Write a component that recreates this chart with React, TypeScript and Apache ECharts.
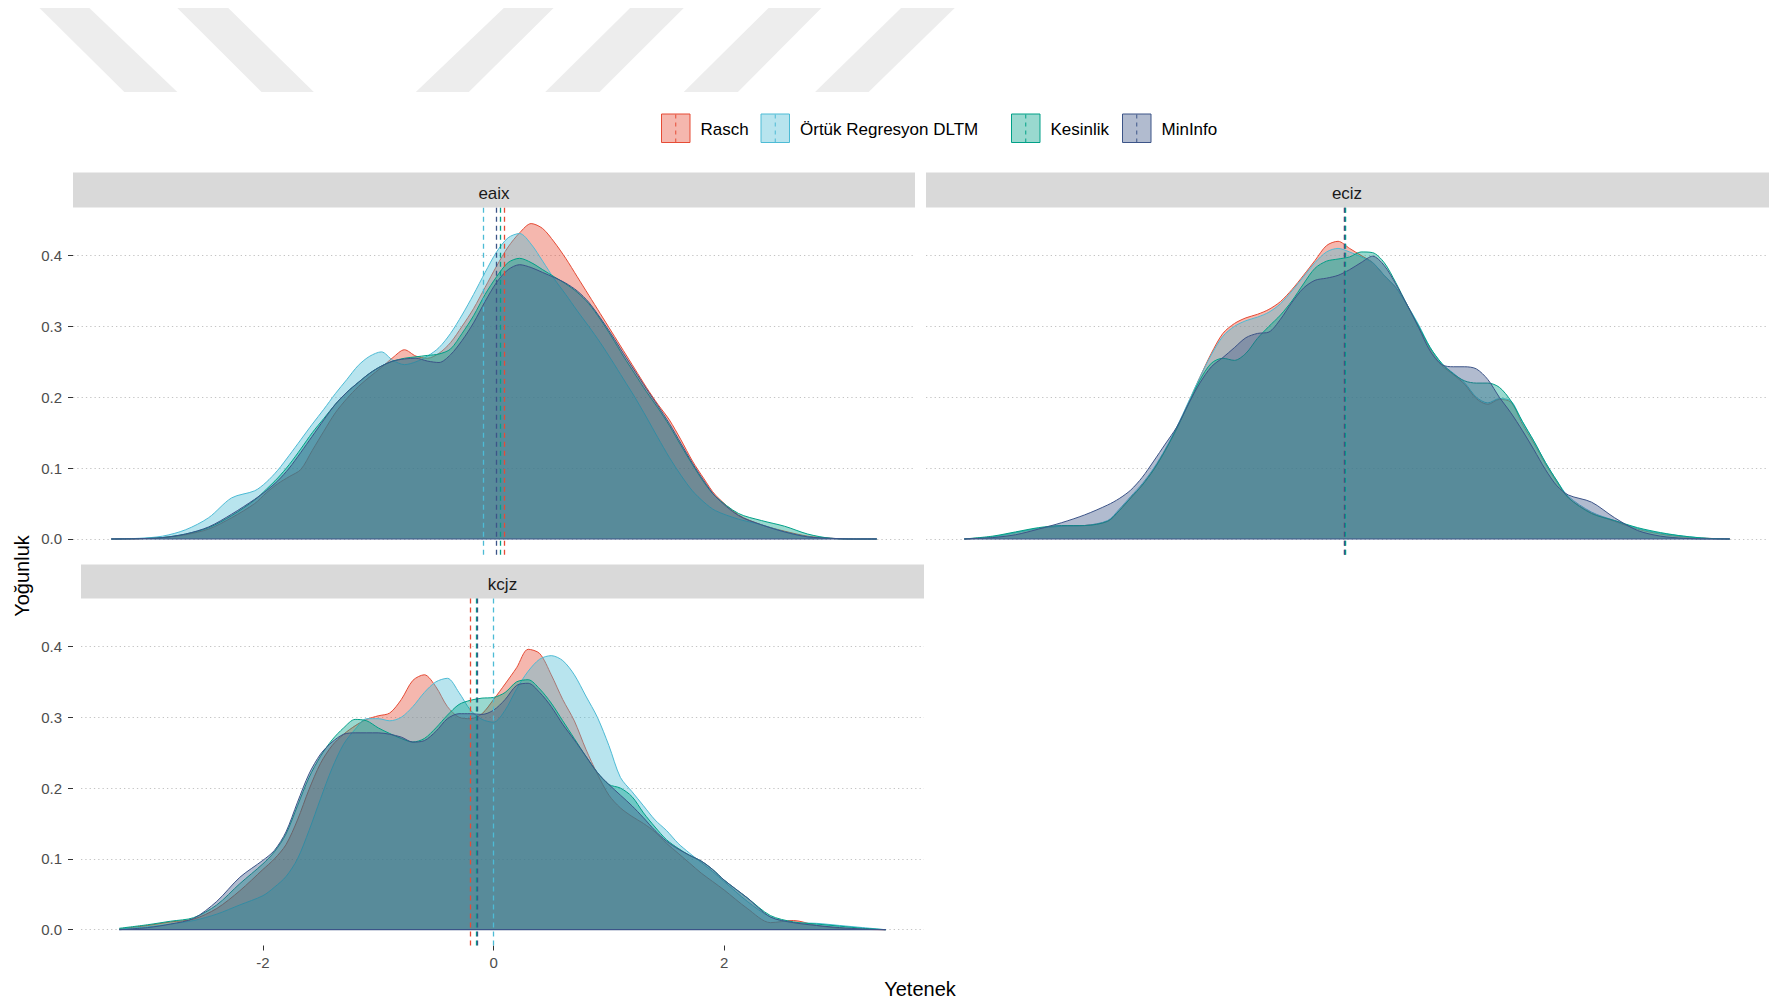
import React, { useEffect, useRef } from "react";
import * as echarts from "echarts";

// ---------- data ----------
const METHODS = ["Rasch", "Örtük Regresyon DLTM", "Kesinlik", "MinInfo"];
const PANELS = ["eaix", "eciz", "kcjz"];
const Y_TICKS = [0, 0.1, 0.2, 0.3, 0.4];
const X_TICKS = [-2, 0, 2];

const X_GRID = [
  -3.245, -3.0, -2.8, -2.6, -2.4, -2.2, -2.0, -1.9, -1.8, -1.7, -1.6, -1.5, -1.4, -1.3, -1.2, -1.1,
  -1.0, -0.9, -0.8, -0.7, -0.6, -0.5, -0.4, -0.3, -0.2, -0.1, 0.0, 0.1, 0.2, 0.3, 0.4, 0.5, 0.6,
  0.7, 0.8, 0.9, 1.0, 1.1, 1.2, 1.3, 1.4, 1.5, 1.6, 1.7, 1.8, 1.9, 2.0, 2.2, 2.4, 2.6, 2.8, 3.0,
  3.2, 3.4,
];

// eaix
const EAIX_RASCH = [
  0, 0.0005, 0.002, 0.006, 0.014, 0.03, 0.05, 0.065, 0.078, 0.088, 0.098, 0.125, 0.152, 0.178,
  0.198, 0.215, 0.229, 0.242, 0.256, 0.267, 0.258, 0.255, 0.262, 0.277, 0.3, 0.325, 0.355, 0.385,
  0.412, 0.432, 0.445, 0.438, 0.419, 0.396, 0.37, 0.344, 0.318, 0.292, 0.266, 0.24, 0.214, 0.19,
  0.168, 0.14, 0.11, 0.085, 0.062, 0.034, 0.02, 0.011, 0.004, 0.001, 0, 0,
];
const EAIX_ORTUK = [
  0, 0.001, 0.004, 0.013, 0.03, 0.058, 0.068, 0.08, 0.097, 0.118, 0.14, 0.162, 0.183, 0.205, 0.225,
  0.245, 0.258, 0.264, 0.252, 0.246, 0.25, 0.258, 0.27, 0.29, 0.316, 0.345, 0.376, 0.405, 0.425,
  0.431, 0.416, 0.392, 0.367, 0.345, 0.322, 0.3, 0.277, 0.252, 0.226, 0.2, 0.172, 0.143, 0.115,
  0.09, 0.068, 0.052, 0.04, 0.028, 0.02, 0.01, 0.003, 0.001, 0, 0,
];
const EAIX_KESIN = [
  0, 0.0005, 0.002, 0.007, 0.016, 0.033, 0.055, 0.07, 0.086, 0.105, 0.127, 0.15, 0.17, 0.19, 0.207,
  0.221, 0.234, 0.244, 0.251, 0.255, 0.257, 0.259, 0.261, 0.268, 0.29, 0.315, 0.345, 0.37, 0.39,
  0.396, 0.39, 0.38, 0.37, 0.36, 0.348, 0.332, 0.31, 0.285, 0.258, 0.233, 0.208, 0.185, 0.16, 0.132,
  0.105, 0.08, 0.06, 0.036, 0.026, 0.018, 0.007, 0.001, 0, 0,
];
const EAIX_MININFO = [
  0, 0.0005, 0.002, 0.007, 0.017, 0.035, 0.056, 0.068, 0.082, 0.1, 0.122, 0.145, 0.168, 0.19, 0.207,
  0.221, 0.234, 0.244, 0.251, 0.254, 0.255, 0.251, 0.249, 0.26, 0.28, 0.305, 0.335, 0.362, 0.38,
  0.387, 0.383, 0.376, 0.369, 0.361, 0.35, 0.334, 0.312, 0.288, 0.262, 0.237, 0.212, 0.188, 0.163,
  0.135, 0.107, 0.082, 0.06, 0.033, 0.02, 0.01, 0.003, 0.001, 0, 0,
];

// eciz
const ECIZ_RASCH = [
  0, 0.003, 0.009, 0.015, 0.018, 0.019, 0.025, 0.04, 0.058, 0.076, 0.098, 0.125, 0.156, 0.192,
  0.228, 0.262, 0.29, 0.304, 0.312, 0.317, 0.324, 0.335, 0.352, 0.372, 0.393, 0.414, 0.42, 0.41,
  0.4, 0.39, 0.372, 0.355, 0.33, 0.3, 0.268, 0.245, 0.232, 0.218, 0.198, 0.19, 0.197, 0.193, 0.162,
  0.135, 0.106, 0.08, 0.058, 0.037, 0.025, 0.014, 0.007, 0.003, 0.001, 0,
];
const ECIZ_ORTUK = [
  0, 0.003, 0.009, 0.015, 0.018, 0.019, 0.026, 0.042, 0.06, 0.078, 0.1, 0.127, 0.158, 0.193, 0.228,
  0.26, 0.286, 0.3, 0.308, 0.313, 0.32, 0.332, 0.35, 0.37, 0.39, 0.405, 0.41, 0.405, 0.398, 0.39,
  0.372, 0.355, 0.33, 0.302, 0.27, 0.247, 0.234, 0.22, 0.2, 0.192, 0.198, 0.195, 0.165, 0.138,
  0.108, 0.082, 0.06, 0.038, 0.026, 0.015, 0.008, 0.004, 0.001, 0,
];
const ECIZ_KESIN = [
  0, 0.004, 0.01, 0.016, 0.019, 0.019, 0.025, 0.04, 0.058, 0.076, 0.098, 0.125, 0.156, 0.19, 0.224,
  0.248, 0.255, 0.252, 0.262, 0.283, 0.3, 0.316, 0.336, 0.36, 0.382, 0.392, 0.395, 0.398, 0.405,
  0.404, 0.39, 0.362, 0.33, 0.3, 0.27, 0.248, 0.233, 0.223, 0.22, 0.22, 0.214, 0.195, 0.166, 0.138,
  0.108, 0.082, 0.058, 0.036, 0.026, 0.016, 0.009, 0.004, 0.001, 0,
];
const ECIZ_MININFO = [
  0, 0.002, 0.006, 0.014, 0.023, 0.034, 0.048, 0.057, 0.069, 0.087, 0.11, 0.134, 0.158, 0.19, 0.22,
  0.243, 0.256, 0.27, 0.284, 0.29, 0.292, 0.31, 0.334, 0.354, 0.365, 0.368, 0.372, 0.38, 0.39,
  0.399, 0.386, 0.36, 0.33, 0.298, 0.265, 0.246, 0.243, 0.243, 0.24, 0.225, 0.2, 0.178, 0.153,
  0.126, 0.098, 0.075, 0.062, 0.052, 0.03, 0.012, 0.004, 0.001, 0, 0,
];

// kcjz
const KCJZ_RASCH = [
  0.001, 0.006, 0.011, 0.015, 0.03, 0.055, 0.085, 0.1, 0.12, 0.155, 0.198, 0.235, 0.26, 0.276,
  0.288, 0.297, 0.302, 0.306, 0.325, 0.352, 0.36, 0.343, 0.315, 0.3, 0.298, 0.305, 0.325, 0.347,
  0.37, 0.396, 0.39, 0.36, 0.325, 0.295, 0.255, 0.22, 0.19, 0.172, 0.16, 0.15, 0.138, 0.122, 0.108,
  0.094, 0.08, 0.068, 0.056, 0.03, 0.01, 0.013, 0.006, 0.002, 0.0005, 0,
];
const KCJZ_ORTUK = [
  0.001, 0.004, 0.008, 0.013, 0.022, 0.035, 0.048, 0.06, 0.075, 0.1, 0.14, 0.185, 0.228, 0.262,
  0.283, 0.298, 0.298, 0.295, 0.3, 0.315, 0.335, 0.35, 0.355, 0.335, 0.31, 0.297, 0.293, 0.31, 0.34,
  0.365, 0.382, 0.387, 0.38, 0.36, 0.33, 0.3, 0.26, 0.215, 0.195, 0.175, 0.155, 0.14, 0.122, 0.108,
  0.095, 0.082, 0.068, 0.04, 0.018, 0.01, 0.009, 0.006, 0.003, 0,
];
const KCJZ_KESIN = [
  0.002, 0.007, 0.012, 0.017, 0.035, 0.065, 0.093, 0.11, 0.135, 0.175, 0.215, 0.245, 0.268, 0.285,
  0.297, 0.295, 0.285, 0.277, 0.27, 0.265, 0.27, 0.285, 0.303, 0.318, 0.324, 0.327, 0.328, 0.335,
  0.35, 0.353, 0.34, 0.32, 0.295, 0.27, 0.245, 0.222, 0.205, 0.2, 0.188, 0.165, 0.145, 0.127, 0.115,
  0.105, 0.097, 0.085, 0.07, 0.045, 0.02, 0.011, 0.008, 0.005, 0.002, 0,
];
const KCJZ_MININFO = [
  0, 0.003, 0.008, 0.016, 0.04, 0.074, 0.098, 0.112, 0.138, 0.18, 0.22, 0.248, 0.265, 0.276, 0.278,
  0.278, 0.278, 0.276, 0.272, 0.265, 0.267, 0.28, 0.298, 0.305, 0.305, 0.304, 0.31, 0.325, 0.345,
  0.348, 0.335, 0.315, 0.29, 0.268, 0.245, 0.222, 0.205, 0.19, 0.175, 0.158, 0.14, 0.125, 0.114,
  0.105, 0.097, 0.085, 0.07, 0.045, 0.018, 0.01, 0.006, 0.003, 0.001, 0,
];

// means (dashed vertical lines), order: Rasch, Örtük, Kesinlik, MinInfo
const MEANS_EAIX = [0.17, -0.02, 0.125, 0.1];
const MEANS_ECIZ = [0.05, 0.064, 0.058, 0.052];
const MEANS_KCJZ = [-0.196, -0.003, -0.15, -0.143];

// ---------- styling / layout ----------
const COLORS = ["#E64B35", "#4DBBD5", "#00A087", "#3C5488"];
const X_MIN = -3.577;
const X_MAX = 3.732;
const Y_MIN = -0.0223;
const Y_MAX = 0.4677;
const FONT = "'Liberation Sans', Arial, sans-serif";

const GRIDS = [
  { left: 73, top: 207.5, width: 842, height: 347.3 },
  { left: 926, top: 207.5, width: 842, height: 347.3 },
  { left: 81, top: 598.5, width: 843, height: 347 },
];
const STRIPS = [
  { x: 73, y: 172.6, w: 842, h: 34.9 },
  { x: 926, y: 172.6, w: 843, h: 34.9 },
  { x: 81, y: 564.5, w: 843, h: 34 },
];
const LEGEND_X = [661, 760.5, 1011, 1122];
const WATERMARK = [
  [[39.5, 8], [89.3, 8], [177.3, 92], [124.4, 92]],
  [[177.3, 8], [228.3, 8], [313.8, 92], [261.5, 92]],
  [[503.8, 8], [553.6, 8], [468.8, 92], [415.8, 92]],
  [[630.1, 8], [683.7, 8], [599.5, 92], [545.3, 92]],
  [[768.5, 8], [821.4, 8], [737.9, 92], [683.7, 92]],
  [[901.1, 8], [954.7, 8], [868.6, 92], [815.1, 92]],
];

const DENS = [
  [EAIX_RASCH, EAIX_ORTUK, EAIX_KESIN, EAIX_MININFO],
  [ECIZ_RASCH, ECIZ_ORTUK, ECIZ_KESIN, ECIZ_MININFO],
  [KCJZ_RASCH, KCJZ_ORTUK, KCJZ_KESIN, KCJZ_MININFO],
];
const MEANS = [MEANS_EAIX, MEANS_ECIZ, MEANS_KCJZ];

function rgba(hex: string, a: number) {
  const n = parseInt(hex.slice(1), 16);
  return `rgba(${(n >> 16) & 255},${(n >> 8) & 255},${n & 255},${a})`;
}

function buildOption() {
  const grid = GRIDS.map((g) => ({ ...g, containLabel: false }));

  const xAxis = PANELS.map((_, p) => ({
    type: "value",
    gridIndex: p,
    min: X_MIN,
    max: X_MAX,
    show: p === 2,
    axisLine: { show: false, onZero: false },
    axisTick: {
      show: p === 2,
      length: 5,
      customValues: X_TICKS,
      lineStyle: { color: "#333333", width: 1 },
    },
    axisLabel: {
      show: p === 2,
      customValues: X_TICKS,
      margin: 9,
      color: "#4D4D4D",
      fontSize: 15,
      fontFamily: FONT,
      formatter: (v: number) => String(v),
    },
    splitLine: { show: false },
  }));

  const yAxis = PANELS.map((_, p) => ({
    type: "value",
    gridIndex: p,
    min: Y_MIN,
    max: Y_MAX,
    offset: p === 2 ? 8 : 0,
    axisLine: { show: false, onZero: false },
    axisTick: {
      show: p !== 1,
      length: 5,
      customValues: Y_TICKS,
      lineStyle: { color: "#333333", width: 1 },
    },
    axisLabel: {
      show: p !== 1,
      customValues: Y_TICKS,
      margin: 11,
      color: "#4D4D4D",
      fontSize: 15,
      fontFamily: FONT,
      formatter: (v: number) => v.toFixed(1),
    },
    splitLine: {
      show: true,
      lineStyle: { color: "#C4C4C4", width: 1, type: [1.3, 3] },
    },
  }));

  const series: any[] = [];
  PANELS.forEach((_, p) => {
    METHODS.forEach((name, m) => {
      series.push({
        type: "line",
        name,
        xAxisIndex: p,
        yAxisIndex: p,
        data: X_GRID.map((x, i) => [x, DENS[p][m][i]]),
        showSymbol: false,
        symbol: "none",
        smooth: 0.3,
        z: 2 + m * 0.01,
        lineStyle: { color: COLORS[m], width: 1 },
        itemStyle: { color: COLORS[m] },
        areaStyle: { color: COLORS[m], opacity: 0.4 },
        emphasis: { disabled: true },
        markLine: {
          silent: true,
          symbol: "none",
          label: { show: false },
          emphasis: { disabled: true },
          lineStyle: { color: COLORS[m], type: [5, 4], width: 1.3 },
          data: [{ xAxis: MEANS[p][m] }],
        },
      });
    });
    series.push({
      type: "line",
      xAxisIndex: p,
      yAxisIndex: p,
      data: [
        [X_GRID[0], 0],
        [X_GRID[X_GRID.length - 1], 0],
      ],
      showSymbol: false,
      symbol: "none",
      z: 3,
      lineStyle: { color: COLORS[3], width: 1.2 },
      emphasis: { disabled: true },
    });
  });

  const graphic: any[] = [];
  WATERMARK.forEach((pts) => {
    graphic.push({
      type: "polygon",
      silent: true,
      z: -10,
      shape: { points: pts },
      style: { fill: "#EDEDED" },
    });
  });
  PANELS.forEach((label, p) => {
    const s = STRIPS[p];
    graphic.push({
      type: "rect",
      silent: true,
      shape: { x: s.x, y: s.y, width: s.w, height: s.h },
      style: { fill: "#D9D9D9" },
    });
    graphic.push({
      type: "text",
      silent: true,
      x: GRIDS[p].left + GRIDS[p].width / 2,
      y: s.y + s.h / 2 + 3,
      style: {
        text: label,
        fill: "#1A1A1A",
        fontSize: 17,
        fontFamily: FONT,
        align: "center",
        verticalAlign: "middle",
      },
    });
  });
  METHODS.forEach((name, m) => {
    const x = LEGEND_X[m];
    graphic.push({
      type: "rect",
      silent: true,
      shape: { x: x + 0.5, y: 114, width: 28.5, height: 28.5 },
      style: { fill: rgba(COLORS[m], 0.4), stroke: COLORS[m], lineWidth: 1 },
    });
    graphic.push({
      type: "line",
      silent: true,
      shape: { x1: x + 14.75, y1: 114.5, x2: x + 14.75, y2: 142 },
      style: { stroke: COLORS[m], lineWidth: 1, lineDash: [4, 4] },
    });
    graphic.push({
      type: "text",
      silent: true,
      x: x + 39.5,
      y: 129,
      style: {
        text: name,
        fill: "#000000",
        fontSize: 17,
        fontFamily: FONT,
        align: "left",
        verticalAlign: "middle",
      },
    });
  });
  graphic.push({
    type: "text",
    silent: true,
    x: 22,
    y: 576,
    rotation: Math.PI / 2,
    style: {
      text: "Yoğunluk",
      fill: "#000000",
      fontSize: 20,
      fontFamily: FONT,
      align: "center",
      verticalAlign: "middle",
    },
  });
  graphic.push({
    type: "text",
    silent: true,
    x: 920,
    y: 989,
    style: {
      text: "Yetenek",
      fill: "#000000",
      fontSize: 20,
      fontFamily: FONT,
      align: "center",
      verticalAlign: "middle",
    },
  });

  return {
    animation: false,
    backgroundColor: "#FFFFFF",
    grid,
    xAxis,
    yAxis,
    series,
    graphic,
  };
}

export default function App() {
  const ref = useRef<HTMLDivElement>(null);
  useEffect(() => {
    document.body.style.margin = "0";
    const chart = echarts.init(ref.current as HTMLDivElement, null, {
      renderer: "svg",
      width: 1769,
      height: 1005,
    });
    chart.setOption(buildOption() as any);
    return () => chart.dispose();
  }, []);
  return (
    <div
      ref={ref}
      style={{ position: "absolute", left: 0, top: 0, width: 1769, height: 1005, background: "#fff" }}
    />
  );
}
